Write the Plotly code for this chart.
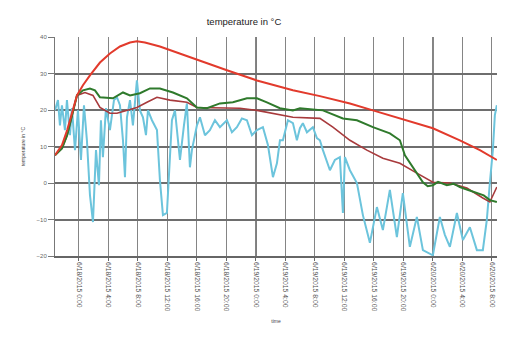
import plotly.graph_objects as go

# ---------------- data (time in hours from first tick, temperature in °C) ----------------
red_t = [-3.25, -2.3, -1.6, -0.95, -0.27, 0.54, 1.49, 2.85, 4.2, 5.56, 6.92, 7.86, 8.95, 10.98,
         15.46, 20.07, 24.14, 29.02, 32.68, 36.75, 39.87, 43.53, 48.0, 51.66, 54.38, 56.68]
red_v = [7.6, 10.4, 14.5, 19.4, 24.0, 26.8, 29.5, 33.0, 35.5, 37.4, 38.5, 38.8, 38.5, 37.4,
         34.1, 30.9, 28.1, 25.4, 23.8, 21.8, 19.9, 17.7, 15.0, 11.7, 9.0, 6.3]

green_t = [-3.25, -2.3, -1.6, -0.95, -0.27, 0.54, 1.49, 2.17, 2.85, 4.61, 5.97, 6.92, 8.27, 9.63,
           10.98, 12.75, 14.64, 16.0, 17.36, 19.12, 20.88, 22.78, 24.14, 25.49, 27.26, 29.02,
           29.97, 33.09, 35.8, 37.7, 39.87, 42.17, 43.53, 44.21, 45.83, 46.65, 47.3, 48.0, 48.7,
           49.9, 50.8, 51.66, 52.6, 53.97, 54.9, 55.73, 56.68]
green_v = [7.6, 9.5, 13.1, 18.6, 24.0, 25.4, 25.9, 25.4, 23.5, 23.2, 24.8, 24.0, 24.6, 25.9,
           25.9, 24.8, 23.2, 20.7, 20.5, 21.8, 22.1, 23.2, 23.2, 22.1, 20.5, 19.9,
           20.5, 19.9, 17.7, 17.2, 15.3, 13.6, 11.7, 7.6, 2.7, 0.2, -0.9, -0.6, 0.3,
           -0.6, -0.2, -1.1, -1.8, -2.8, -3.4, -4.7, -5.2]

brown_t = [-3.25, -2.3, -1.6, -0.95, -0.27, 0.81, 1.9, 2.85, 4.2, 5.15, 6.51, 7.86, 9.22, 10.58,
           12.34, 14.64, 16.0, 19.12, 21.83, 24.14, 26.31, 29.02, 32.68, 34.44, 36.75, 39.05,
           41.22, 43.53, 45.83, 48.0, 50.31, 52.61, 54.78, 55.73, 56.68]
brown_v = [7.6, 9.5, 13.1, 18.6, 24.0, 24.8, 24.0, 20.7, 19.1, 19.1, 19.9, 20.7, 22.1, 23.5,
           22.7, 22.1, 20.7, 20.7, 20.5, 19.9, 19.1, 18.0, 17.7, 15.3, 11.7, 9.0,
           6.8, 5.4, 2.7, 0.2, 0.0, -1.4, -4.1, -5.2, -1.1]

cyan_t = [-3.25, -2.85, -2.58, -2.31, -1.9, -1.63, -1.22, -0.95, -0.54, -0.14, 0.27, 0.68, 1.08,
          1.49, 1.9, 2.31, 2.71, 2.98, 3.25, 3.66, 4.2, 4.75, 5.15, 5.56, 5.97, 6.24, 6.51, 6.92,
          7.32, 7.86, 8.27, 8.68, 9.09, 9.36, 9.9, 10.58, 10.98, 11.39, 11.93, 12.34, 12.61,
          13.02, 13.42, 13.7, 14.24, 14.64, 15.05, 15.32, 16.0, 16.41, 17.09, 17.76, 18.44,
          19.12, 20.07, 20.75, 21.42, 22.1, 22.78, 23.46, 24.14, 24.95, 25.63, 26.31, 26.85,
          27.26, 27.66, 28.34, 29.02, 29.56, 29.97, 30.37, 30.92, 31.32, 31.73, 32.27, 32.68,
          33.09, 33.63, 34.04, 34.71, 35.39, 35.8, 36.07, 36.75, 37.7, 38.51, 39.46, 40.41,
          41.22, 42.17, 43.12, 43.93, 44.88, 45.83, 46.65, 48.0, 48.95, 49.63, 50.31, 51.26,
          52.07, 53.02, 53.97, 54.78, 55.32, 55.73, 56.14, 56.41, 56.68]
cyan_v = [19.9, 22.7, 15.8, 21.3, 14.5, 22.7, 13.1, 20.5, 9.0, 19.9, 6.3, 21.3, 11.7,
          -3.3, -10.7, 9.0, -0.6, 17.2, 7.1, 20.5, 14.5, 22.7, 23.5, 21.3, 11.7, 1.6, 18.0, 22.7,
          15.8, 28.1, 19.9, 18.0, 13.1, 19.9, 17.2, 14.5, 0.8, -8.8, -8.2, 7.1, 17.2,
          19.9, 11.7, 6.3, 15.8, 21.8, 4.3, 9.0, 15.8, 18.0, 13.1, 14.5, 17.2,
          15.3, 17.2, 13.9, 15.3, 17.7, 17.2, 13.1, 14.5, 15.3, 10.4, 1.6, 5.4,
          11.7, 11.7, 17.2, 16.4, 11.7, 15.0, 16.4, 13.9, 14.5, 15.3, 12.3, 11.7,
          9.0, 5.7, 3.5, 6.3, 7.1, -8.2, 7.1, 3.5, 0.0, -8.8, -16.4, -6.6,
          -12.9, -1.9, -14.8, -2.8, -17.5, -9.3, -18.4, -19.8, -9.3, -14.2, -17.5, -8.2,
          -15.6, -12.1, -18.4, -18.4, -10.1, 0.0, 9.0, 18.6, 21.3]

tick_hours = [0, 4, 8, 12, 16, 20, 24, 28, 32, 36, 40, 44, 48, 52, 56]
tick_labels = ["6/18/2015 0:00", "6/18/2015 4:00", "6/18/2015 8:00", "6/18/2015 12:00",
               "6/18/2015 16:00", "6/18/2015 20:00", "6/19/2015 0:00", "6/19/2015 4:00",
               "6/19/2015 8:00", "6/19/2015 12:00", "6/19/2015 16:00", "6/19/2015 20:00",
               "6/20/2015 0:00", "6/20/2015 4:00", "6/20/2015 8:00"]
day_hours = [24, 48]
y_ticks = [-20, -10, 0, 10, 20, 30, 40]

# ---------------- figure ----------------
fig = go.Figure()
fig.add_trace(go.Scatter(x=cyan_t, y=cyan_v, mode="lines",
                         line=dict(color="#6cc4dc", width=2)))
fig.add_trace(go.Scatter(x=brown_t, y=brown_v, mode="lines",
                         line=dict(color="#a83a3c", width=1.6)))
fig.add_trace(go.Scatter(x=green_t, y=green_v, mode="lines",
                         line=dict(color="#2f7a2c", width=2)))
fig.add_trace(go.Scatter(x=red_t, y=red_v, mode="lines",
                         line=dict(color="#e23a2c", width=2)))

for d in day_hours:
    fig.add_shape(type="line", xref="x", yref="paper", x0=d, x1=d, y0=0, y1=1,
                  line=dict(color="#3a3a3a", width=1.5), layer="below")

font = "Liberation Sans, Arial, sans-serif"
# the page places the figure 8 px from the window's top-left corner
W, H = 505, 329
L, R, T, B = 47, 16, 29, 81

fig.update_layout(
    width=W, height=H,
    margin=dict(l=L, r=R, t=T, b=B, autoexpand=False),
    paper_bgcolor="white", plot_bgcolor="white",
    showlegend=False,
    font=dict(family=font, color="#444", size=6),
    title=dict(text="temperature in °C", x=236 / W, xanchor="center", y=1 - 14 / H,
               yanchor="middle", font=dict(size=9.5, color="#222", family=font)),
    xaxis=dict(range=[-3.25, 56.7], tickmode="array", tickvals=tick_hours, ticktext=tick_labels,
               tickangle=90, tickfont=dict(size=6.8, color="#555"), automargin=False,
               showgrid=True, gridcolor="#858585", gridwidth=1.2,
               showline=True, linecolor="#666", linewidth=1.5,
               ticks="outside", ticklen=3, tickcolor="#666", zeroline=False,
               title=dict(text="time", font=dict(size=5, color="#444"), standoff=9)),
    yaxis=dict(range=[-20, 40], tickmode="array", tickvals=y_ticks, automargin=False,
               tickfont=dict(size=6, color="#666"),
               showgrid=True, gridcolor="#6e6e6e", gridwidth=1.6,
               showline=True, linecolor="#777", linewidth=1,
               ticks="outside", ticklen=6, tickcolor="#777", zeroline=False,
               title=dict(text="temperature in °C", font=dict(size=5, color="#444"), standoff=10)),
)

fig.write_html("out.html")
